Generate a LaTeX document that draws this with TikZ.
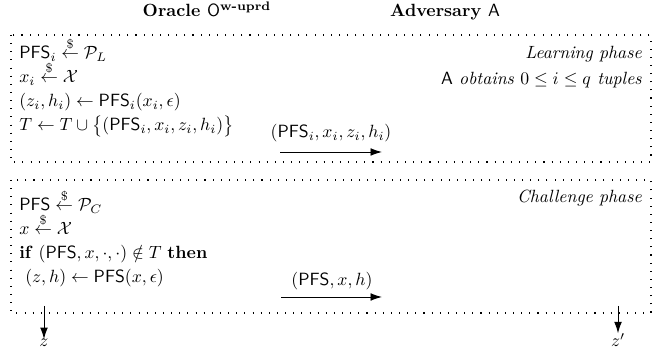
\documentclass[tikz,border=0pt]{standalone}
\usepackage{amsmath,amssymb}
\usepackage{tikz}
\usetikzlibrary{arrows.meta,positioning,calc}

\newcommand{\samp}{\mathrel{\smash{\stackrel{\$}{\leftarrow}}}}

\begin{document}
\begin{tikzpicture}[x=0.565pt,y=-0.565pt,
  phasebox/.style={loosely dotted,line width=0.6pt},
  msg/.style={-{Latex[length=6.5pt,width=4.4pt]},line width=0.55pt},
  cmd/.style={anchor=base west,inner sep=0pt},
  note/.style={anchor=base east,inner sep=0pt,font=\itshape},
  lbl/.style={anchor=base,inner sep=0pt}]
\useasboundingbox (0,0) rectangle (654,351);
% Headers
\node[lbl] (oracle) at (207,17) {\textbf{Oracle $\mathsf{O}^{\textbf{w-uprd}}$}};
\node[lbl] (adv) at (445,17) {\textbf{Adversary $\mathsf{A}$}};

% Learning phase
\draw[phasebox] (11,35) rectangle (651,162);
\node[note] (learn) at (642,59) {Learning phase};
\node[note] (obtain) at (642,85) {$\mathsf{A}$ obtains $0 \leq i \leq q$ tuples};
\node[cmd] (l1) at (19,59) {$\mathsf{PFS}_i \samp \mathcal{P}_L$};
\node[cmd] (l2) at (19,83) {$x_i \samp \mathcal{X}$};
\node[cmd] (l3) at (19,107) {$(z_i,h_i) \leftarrow \mathsf{PFS}_i(x_i,\epsilon)$};
\node[cmd] (l4) at (19,131) {$T \leftarrow T \cup \bigl\{(\mathsf{PFS}_i,x_i,z_i,h_i)\bigr\}$};
\node[lbl] (m1) at (331,138) {$(\mathsf{PFS}_i,x_i,z_i,h_i)$};
\coordinate (m1s) at (280,152);
\coordinate (m1e) at (382,152);
\draw[msg] (m1s) -- (m1e);

% Challenge phase
\draw[phasebox] (11,180) rectangle (651,313);
\node[note] (chal) at (642,203) {Challenge phase};
\node[cmd] (c1) at (19,211) {$\mathsf{PFS} \samp \mathcal{P}_C$};
\node[cmd] (c2) at (19,235) {$x \samp \mathcal{X}$};
\node[cmd] (c3) at (19,259) {\textbf{if} $(\mathsf{PFS},x,\cdot,\cdot) \notin T$ \textbf{then}};
\node[cmd] (c4) at (25,283) {$(z,h) \leftarrow \mathsf{PFS}(x,\epsilon)$};
\node[lbl] (m2) at (332,286) {$(\mathsf{PFS},x,h)$};
\coordinate (m2s) at (281,297);
\coordinate (m2e) at (382,297);
\draw[msg] (m2s) -- (m2e);

% Outputs
\node[lbl] (z) at (44,347) {$z$};
\node[lbl] (zp) at (618,347) {$z'$};
\coordinate (zs) at (44,306);
\coordinate (zps) at (618,306);
\draw[msg] (zs) -- (z.north);
\draw[msg] (zps) -- (zp.north);
\end{tikzpicture}
\end{document}
